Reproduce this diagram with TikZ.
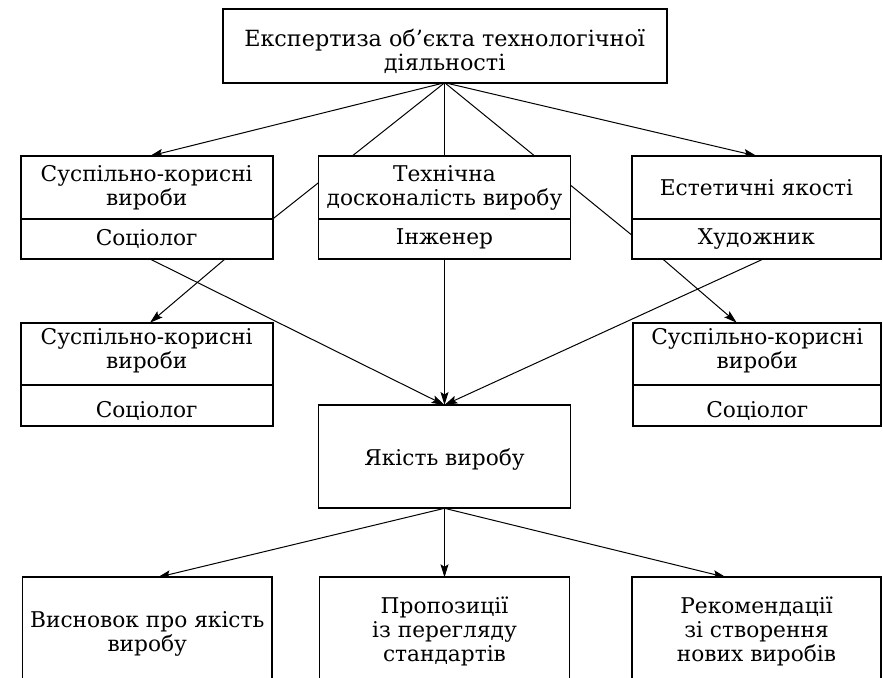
\documentclass[tikz,border=0pt]{standalone}
\usepackage{fontspec}
\setmainfont{DejaVu Serif}
\usetikzlibrary{arrows.meta,calc,backgrounds}
\begin{document}
\begin{tikzpicture}[x=1pt,y=-1pt,
  box/.style={draw, line width=1.8pt, fill=white, inner sep=0pt, outer sep=0pt, anchor=north west},
  txt/.style={inner sep=0pt, align=center, font=\fontsize{21.7}{24}\selectfont},
  conn/.style={line width=1pt},
  arr/.style={conn, -{Stealth[length=13pt,width=8pt,inset=2.5pt]}}]
\useasboundingbox (0,0) rectangle (883,677);
\clip (0,0) rectangle (883,677);
% top
\node[box, minimum width=444, minimum height=73.4] (T) at (222.7,9.3) {};
\node[txt, font=\fontsize{22.3}{24}\selectfont] (Tt) at ($(T.center)+(0,5)$)
  {Експертиза об’єкта технологічної\\діяльності};
% second row
\node[box, minimum width=252, minimum height=63] (A1) at (20.7,156) {};
\node[box, minimum width=252, minimum height=40] (A2) at (20.7,219) {};
\node[box, minimum width=252, minimum height=63] (B1) at (318.5,156) {};
\node[box, minimum width=252, minimum height=40] (B2) at (318.5,219) {};
\node[box, minimum width=249.5, minimum height=63] (C1) at (631.7,156) {};
\node[box, minimum width=249.5, minimum height=40] (C2) at (631.7,219) {};
\node[txt] (A1t) at (A1.center) {Суспільно-корисні\\вироби};
\node[txt] (A2t) at (A2.center) {Соціолог};
\node[txt] (B1t) at (B1.center) {Технічна\\досконалість виробу};
\node[txt] (B2t) at (B2.center) {Інженер};
\node[txt] (C1t) at (C1.center) {Естетичні якості};
\node[txt] (C2t) at (C2.center) {Художник};
% third row
\node[box, minimum width=252, minimum height=62.3] (D1) at (20.7,322.7) {};
\node[box, minimum width=252, minimum height=41] (D2) at (20.7,385) {};
\node[box, minimum width=248, minimum height=62.3] (E1) at (633.3,322.7) {};
\node[box, minimum width=248, minimum height=41] (E2) at (633.3,385) {};
\node[txt] (D1t) at ($(D1.center)+(0,-3)$) {Суспільно-корисні\\вироби};
\node[txt] (D2t) at ($(D2.center)+(0,5)$) {Соціолог};
\node[txt] (E1t) at ($(E1.center)+(0,-3)$) {Суспільно-корисні\\вироби};
\node[txt] (E2t) at ($(E2.center)+(0,5)$) {Соціолог};
% quality
\node[box, minimum width=252, minimum height=103.3] (F) at (318.5,405) {};
\node[txt] (Ft) at ($(F.center)+(0,3)$) {Якість виробу};
% bottom row
\node[box, minimum width=249.5, minimum height=108] (G) at (22.5,577.3) {};
\node[box, minimum width=250, minimum height=108] (H) at (319.5,577.3) {};
\node[box, minimum width=249, minimum height=108] (I) at (632,577.3) {};
\node[txt] (Gt) at ($(G.center)+(0,3)$) {Висновок про якість\\виробу};
\node[txt] (Ht) at (H.center) {Пропозиції\\із перегляду\\стандартів};
\node[txt] (It) at (I.center) {Рекомендації\\зі створення\\нових виробів};
\coordinate (ap) at (T.south);
\begin{scope}[on background layer]
  \draw[arr] (ap) -- ($(A1.north west)+(129.3,0)$);
  \draw[arr] (ap) -- ($(C1.north west)+(125,0)$);
  \draw[conn] (ap) -- (ap |- B1.north);
  \draw[conn] (ap) -- (A1.south east);
  \draw[conn] (ap) -- ($(C2.north west)+(0,16)$);
  \draw[arr] ($(A2.south west)+(129.3,0)$) -- (F.north);
  \draw[arr] ($(A2.south west)+(204.3,0)$) -- ($(D1.north west)+(129.3,0)$);
  \draw[arr] (B2.south) -- (F.north);
  \draw[arr] ($(C2.south west)+(131.6,0)$) -- (F.north);
  \draw[arr] ($(C2.south west)+(31,0)$) -- ($(E1.north west)+(103.4,0)$);
  \draw[arr] (F.south) -- ($(G.north west)+(135.2,0)$);
  \draw[arr] (F.south) -- (H.north);
  \draw[arr] (F.south) -- ($(I.north west)+(94,0)$);
\end{scope}
\end{tikzpicture}
\end{document}
